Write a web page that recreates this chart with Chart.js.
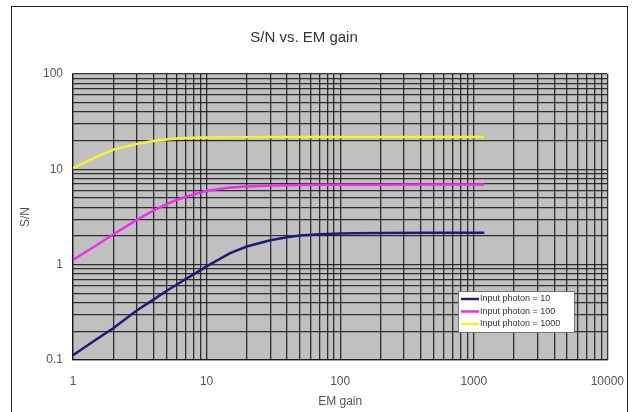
<!DOCTYPE html>
<html>
<head>
<meta charset="utf-8">
<script src="https://cdn.jsdelivr.net/npm/chart.js@4"></script>
<style>
  html, body { margin: 0; padding: 0; background: #fff; }
  #wrap { position: relative; width: 638px; height: 412px; overflow: hidden; }
  #frame { position: absolute; left: 11px; top: 6px; width: 615px; height: 430px; border: 1.5px solid #222; pointer-events: none; }
  canvas { position: absolute; left: 0; top: 0; }
</style>
</head>
<body>
<div id="wrap">
  <canvas id="snChart" width="638" height="412"></canvas>
  <div id="frame"></div>
</div>
<script>
// ---- Data ----
const gains = [1, 1.5, 2, 3, 4, 5, 6, 7, 8, 10, 15, 20, 30, 40, 50, 70, 100, 130, 200, 500, 1200];
const photon10   = [0.112, 0.165, 0.215, 0.33, 0.43, 0.53, 0.62, 0.71, 0.79, 0.96, 1.32, 1.55, 1.8, 1.94, 2.02, 2.08, 2.12, 2.14, 2.15, 2.16, 2.16];
const photon100  = [1.12, 1.6, 2.07, 2.95, 3.7, 4.3, 4.8, 5.15, 5.45, 5.95, 6.45, 6.6, 6.75, 6.82, 6.85, 6.88, 6.9, 6.9, 6.91, 6.92, 6.92];
const photon1000 = [10.3, 13.5, 16.1, 18.5, 19.8, 20.5, 21.0, 21.3, 21.45, 21.6, 21.7, 21.75, 21.8, 21.8, 21.8, 21.8, 21.8, 21.8, 21.8, 21.8, 21.8];
const seriesLabels = ['Input photon = 10', 'Input photon = 100', 'Input photon = 1000'];
const xTickLabels = ['1', '10', '100', '1000', '10000'];
const yTickLabels = ['0.1', '1', '10', '100'];

// ---- Helpers ----
function toPoints(values) {
    return gains.map((g, i) => ({ x: g, y: values[i] }));
}

// grid positions 1..9 per decade between the labelled ticks
function logGrid(labels) {
    const majors = labels.map(Number);
    const out = [];
    for (let i = 0; i < majors.length - 1; i++) {
        for (let k = 1; k < 10; k++) out.push(majors[i] * k);
    }
    out.push(majors[majors.length - 1]);
    return out;
}

function majorOnly(labels) {
    return function(value) {
        const hit = labels.find(l => Math.abs(Number(l) - value) < 1e-9);
        return hit ? hit : '';
    };
}

// ---- Plot background + legend box ----
const plotBg = {
    id: 'plotBg',
    beforeDraw(chart) {
        const { ctx, chartArea: a } = chart;
        ctx.save();
        ctx.fillStyle = '#c0c0c0';
        ctx.fillRect(a.left, a.top, a.right - a.left, a.bottom - a.top);
        ctx.restore();
    }
};

const boxLegend = {
    id: 'boxLegend',
    afterDatasetsDraw(chart) {
        const ctx = chart.ctx;
        const x = 458, y = 291, w = 116, h = 41;
        ctx.save();
        ctx.fillStyle = '#fff';
        ctx.fillRect(x, y, w, h);
        ctx.strokeStyle = '#777';
        ctx.lineWidth = 1;
        ctx.strokeRect(x + 0.5, y + 0.5, w, h);
        ctx.font = '9px "Liberation Sans", Arial, sans-serif';
        ctx.textBaseline = 'middle';
        chart.data.datasets.forEach((ds, i) => {
            const cy = y + 8 + i * 12.5;
            ctx.strokeStyle = ds.borderColor;
            ctx.lineWidth = 2.5;
            ctx.beginPath();
            ctx.moveTo(x + 3, cy);
            ctx.lineTo(x + 21, cy);
            ctx.stroke();
            ctx.fillStyle = '#333';
            ctx.fillText(ds.label, x + 22, cy);
        });
        ctx.restore();
    }
};

// ---- Chart ----
const gridStyle = { color: 'rgba(20,20,20,0.85)', lineWidth: 1.3, drawTicks: false };
const tickFont = { family: '"Liberation Sans", Arial, sans-serif', size: 12 };

new Chart(document.getElementById('snChart'), {
    type: 'line',
    data: {
        datasets: [
            { label: seriesLabels[0], data: toPoints(photon10), borderColor: '#1c1c7a', borderWidth: 2.5, pointRadius: 0, tension: 0 },
            { label: seriesLabels[1], data: toPoints(photon100), borderColor: '#f02cf0', borderWidth: 2.5, pointRadius: 0, tension: 0 },
            { label: seriesLabels[2], data: toPoints(photon1000), borderColor: '#f4f42a', borderWidth: 2.5, pointRadius: 0, tension: 0 }
        ]
    },
    options: {
        responsive: false,
        animation: false,
        layout: { padding: { left: 0, right: 30, top: 0, bottom: 0 } },
        plugins: {
            legend: { display: false },
            tooltip: { enabled: false },
            title: {
                display: true,
                text: 'S/N vs. EM gain',
                color: '#333',
                font: { family: '"Liberation Sans", Arial, sans-serif', size: 15, weight: 'normal' },
                padding: { top: 29, bottom: 27 }
            }
        },
        scales: {
            x: {
                type: 'logarithmic',
                min: 1,
                max: 10000,
                afterBuildTicks: s => { s.ticks = logGrid(xTickLabels).map(v => ({ value: v })); },
                afterFit: s => { s.height = 52; },
                grid: gridStyle,
                border: { display: true, color: 'rgba(20,20,20,0.85)', width: 1.3 },
                ticks: { callback: majorOnly(xTickLabels), color: '#555', font: tickFont, padding: 14, maxRotation: 0, autoSkip: false },
                title: { display: true, text: 'EM gain', color: '#555', font: tickFont, padding: { top: 0, bottom: 3 } }
            },
            y: {
                type: 'logarithmic',
                min: 0.1,
                max: 100,
                afterBuildTicks: s => { s.ticks = logGrid(yTickLabels).map(v => ({ value: v })); },
                afterFit: s => { s.width = 73; },
                grid: gridStyle,
                border: { display: true, color: 'rgba(20,20,20,0.85)', width: 1.3 },
                ticks: { callback: majorOnly(yTickLabels), color: '#555', font: tickFont, padding: 10, autoSkip: false },
                title: { display: true, text: 'S/N', color: '#555', font: tickFont, padding: { top: 18, bottom: 0 } }
            }
        }
    },
    plugins: [plotBg, boxLegend]
});
</script>
</body>
</html>
